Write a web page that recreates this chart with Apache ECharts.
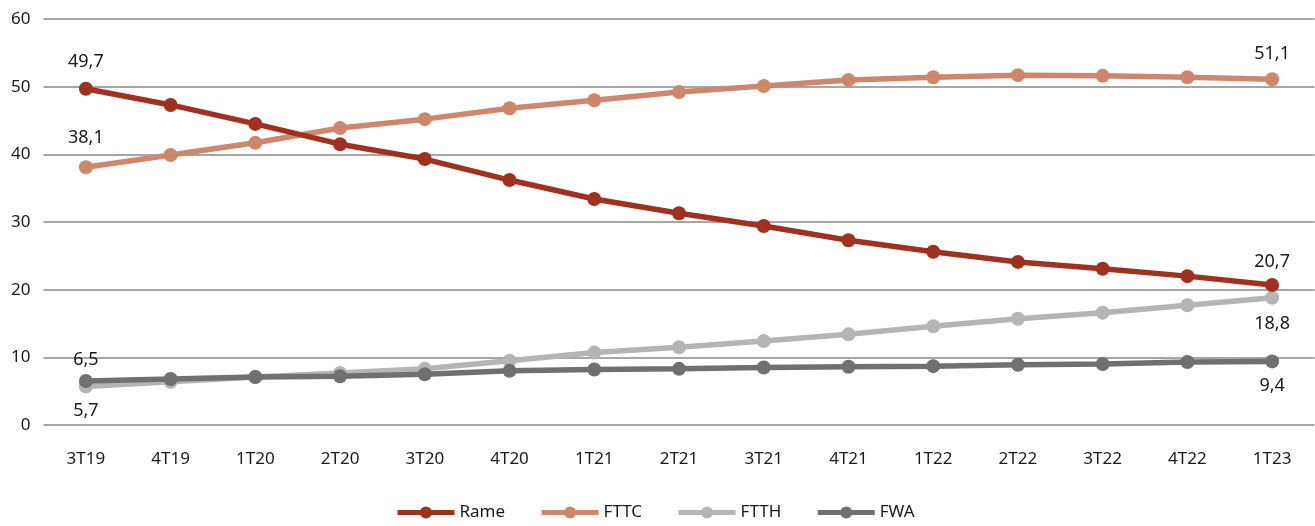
<!DOCTYPE html>
<html>
<head>
<meta charset="utf-8">
<script src="https://cdn.jsdelivr.net/npm/echarts@6/dist/echarts.min.js"></script>
<style>
  html, body { margin: 0; padding: 0; background: #fff; }
  #chart { width: 1315px; height: 526px; }
</style>
</head>
<body>
<div id="chart"></div>
<script>
// Quarterly share of accesses by technology (%)
const quarters = ['3T19','4T19','1T20','2T20','3T20','4T20','1T21','2T21','3T21','4T21','1T22','2T22','3T22','4T22','1T23'];
const rame = [49.7, 47.3, 44.5, 41.5, 39.3, 36.2, 33.4, 31.3, 29.4, 27.3, 25.6, 24.1, 23.1, 22.0, 20.7];
const fttc = [38.1, 39.9, 41.7, 43.9, 45.2, 46.8, 48.0, 49.2, 50.1, 51.0, 51.4, 51.7, 51.6, 51.4, 51.1];
const ftth = [5.7, 6.4, 7.1, 7.7, 8.3, 9.5, 10.7, 11.5, 12.4, 13.4, 14.6, 15.7, 16.6, 17.7, 18.8];
const fwa  = [6.5, 6.8, 7.1, 7.2, 7.5, 8.0, 8.2, 8.3, 8.5, 8.6, 8.7, 8.9, 9.0, 9.3, 9.4];

// end-point labels: [position, distance] for the first and last quarter
const endLabels = {
  Rame: [['top', 11], ['top', 7]],
  FTTC: [['top', 13], ['top', 9]],
  FTTH: [['bottom', 8], ['bottom', 10]],
  FWA:  [['top', 5], ['bottom', 8]]
};

const FONT = '"Noto Sans", "Open Sans", sans-serif';

function makeSeries(name, data, color, z) {
  const last = data.length - 1;
  return {
    name, type: 'line', z, color,
    data: data.map((v, i) => {
      if (i !== 0 && i !== last) return v;
      const [position, distance] = endLabels[name][i === 0 ? 0 : 1];
      return {
        value: v,
        label: {
          show: true, position, distance,
          formatter: p => String(p.value).replace('.', ','),
          color: '#1a1a1a', fontSize: 18, fontFamily: FONT
        }
      };
    }),
    symbol: 'circle', symbolSize: 14,
    lineStyle: { width: 5.5, color },
    itemStyle: { color },
    emphasis: { disabled: true }
  };
}

const chart = echarts.init(document.getElementById('chart'));
chart.setOption({
  animation: false,
  grid: { left: 43.5, right: 0.5, top: 19, bottom: 101, containLabel: false },
  legend: {
    bottom: 0, left: 390, itemWidth: 57, itemHeight: 15, itemGap: 34,
    lineStyle: { width: 5 },
    textStyle: { color: '#1a1a1a', fontSize: 17, fontFamily: FONT }
  },
  xAxis: {
    type: 'category', data: quarters, boundaryGap: true,
    axisLine: { show: false }, axisTick: { show: false },
    axisLabel: { color: '#1a1a1a', fontSize: 17, fontFamily: FONT, margin: 26 }
  },
  yAxis: {
    type: 'value', min: 0, max: 60, interval: 10,
    axisLine: { show: false }, axisTick: { show: false },
    axisLabel: { color: '#1a1a1a', fontSize: 17, fontFamily: FONT, margin: 13 },
    splitLine: { lineStyle: { color: '#a6a6a6', width: 2 } }
  },
  series: [
    makeSeries('Rame', rame, '#A0311F', 4),
    makeSeries('FTTC', fttc, '#CF876C', 3),
    makeSeries('FTTH', ftth, '#B5B5B5', 2),
    makeSeries('FWA', fwa, '#707070', 5)
  ]
});
</script>
</body>
</html>
